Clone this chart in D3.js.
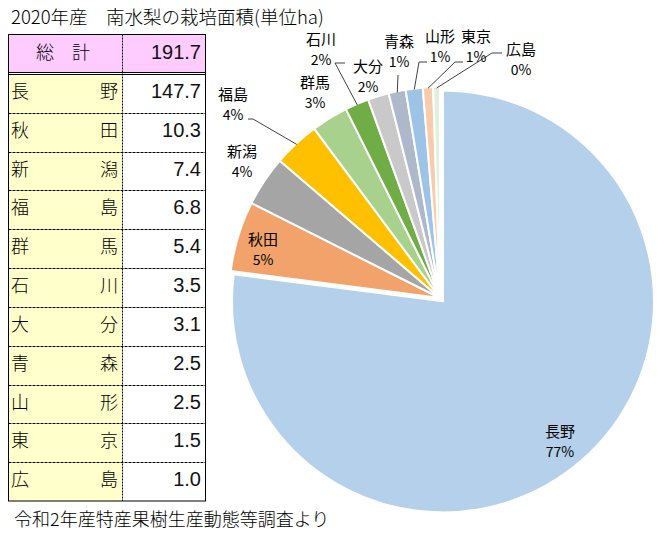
<!DOCTYPE html>
<html><head><meta charset="utf-8">
<script src="https://cdn.jsdelivr.net/npm/d3@7"></script>
<style>
html,body{margin:0;padding:0;background:#fff;}
svg{display:block;}
</style></head>
<body>
<svg id="chart" width="666" height="538"></svg>
<script>
// ---- data ----
const prefectures = ["長野","秋田","新潟","福島","群馬","石川","大分","青森","山形","東京","広島"];
const areas = [147.7, 10.3, 7.4, 6.8, 5.4, 3.5, 3.1, 2.5, 2.5, 1.5, 1.0];
const totalLabel = "191.7";
const areaLabels = ["147.7","10.3","7.4","6.8","5.4","3.5","3.1","2.5","2.5","1.5","1.0"];
const pctLabels = ["77%","5%","4%","4%","3%","2%","2%","1%","1%","1%","0%"];
const sliceColors = ["#b4d0ea","#f2a36c","#a5a5a5","#ffc000","#a9d18e","#70ad47","#c9c9c9","#adb9ca","#9dc3e6","#f8cbad","#e2efda"];
const titleText = "2020年産　南水梨の栽培面積(単位ha)";
const sourceText = "令和2年産特産果樹生産動態等調査より";

// label layout (center x, name baseline) and leader elbows
const labelLayout = [
  {x:560, y:437},
  {x:263, y:245},
  {x:242, y:157},
  {x:233, y:100, leader:[[248,119],[253,119]]},
  {x:315, y:88},
  {x:321, y:45, leader:[[345,63],[335,63]]},
  {x:368, y:72},
  {x:399, y:47, leader:[[398,75]]},
  {x:440, y:42, leader:[[427,62],[419,62]]},
  {x:476, y:42, leader:[[463,62],[455,62]]},
  {x:521, y:55, leader:[[502,53],[492,53]]}
];

const svg = d3.select("#chart");
const jp = "'Noto Sans CJK JP','Noto Sans',sans-serif";
const num = "'Liberation Sans Narrow','Liberation Sans',Arial,sans-serif";

// ---- title / source ----
svg.append("text").attr("x", 11).attr("y", 24).attr("font-family", jp).attr("font-size", 18.5)
  .attr("font-weight", 300).attr("fill", "#000").text(titleText);
svg.append("text").attr("x", 14).attr("y", 526).attr("font-family", jp).attr("font-size", 18)
  .attr("font-weight", 300).attr("fill", "#000").text(sourceText);

// ---- table ----
const tL = 8.5, tR = 205.5, tDiv = 122.5, tTop = 34.5, hdrBottom = 72, tBottom = 501;
const rowY = d3.scaleBand().domain(prefectures).range([74, tBottom]);
const g = svg.append("g");
g.append("rect").attr("x", tL).attr("y", tTop).attr("width", tR - tL).attr("height", hdrBottom - tTop).attr("fill", "#ffccff");
g.append("rect").attr("x", tL).attr("y", 75).attr("width", tDiv - tL).attr("height", tBottom - 75).attr("fill", "#ffffcc");
// double line under header
g.append("line").attr("x1", tL).attr("x2", tR).attr("y1", 72.5).attr("y2", 72.5).attr("stroke", "#000");
g.append("line").attr("x1", tL).attr("x2", tR).attr("y1", 74.5).attr("y2", 74.5).attr("stroke", "#000");
// row separators
prefectures.slice(1).forEach(p => {
  const y = Math.round(rowY(p)) + 0.5;
  g.append("line").attr("x1", tL).attr("x2", tR).attr("y1", y).attr("y2", y)
    .attr("stroke", "#000").attr("stroke-dasharray", "3,1");
});
// column divider
g.append("line").attr("x1", tDiv).attr("x2", tDiv).attr("y1", tTop).attr("y2", tBottom)
  .attr("stroke", "#000").attr("stroke-dasharray", "2,1");
// border
g.append("rect").attr("x", tL).attr("y", tTop).attr("width", tR - tL).attr("height", tBottom - tTop)
  .attr("fill", "none").attr("stroke", "#000");

// header text
g.append("text").attr("x", 63).attr("y", 59).attr("text-anchor", "middle").attr("font-family", jp)
  .attr("font-size", 18).attr("font-weight", 300).attr("xml:space", "preserve").text("総　計");
g.append("text").attr("x", 201).attr("y", 59).attr("text-anchor", "end").attr("font-family", num)
  .attr("font-size", 20).attr("fill", "#111").text(totalLabel);

prefectures.forEach((p, i) => {
  const by = rowY(p) + 24;
  g.append("text").attr("x", 11).attr("y", by).attr("font-family", jp).attr("font-size", 18)
    .attr("font-weight", 300).text(p[0]);
  g.append("text").attr("x", 118).attr("y", by).attr("text-anchor", "end").attr("font-family", jp)
    .attr("font-size", 18).attr("font-weight", 300).text(p[1]);
  g.append("text").attr("x", 201).attr("y", by).attr("text-anchor", "end").attr("font-family", num)
    .attr("font-size", 20).attr("fill", "#111").text(areaLabels[i]);
});

// ---- pie ----
const cx = 440, cy = 298, R = 211, explode = 4.5;
const pie = d3.pie().sort(null).value(d => d)(areas);
const arc = d3.arc().innerRadius(0).outerRadius(R);
const pg = svg.append("g").attr("transform", `translate(${cx},${cy})`);
pg.selectAll("path").data(pie).join("path")
  .attr("d", arc)
  .attr("fill", (d, i) => sliceColors[i])
  .attr("stroke", "#fff").attr("stroke-width", 2).attr("stroke-linejoin", "round")
  .attr("transform", (d, i) => {
    if (i !== 0) return null;
    const a = (d.startAngle + d.endAngle) / 2;
    return `translate(${explode * Math.sin(a)},${-explode * Math.cos(a)})`;
  });

// leader lines
pie.forEach((d, i) => {
  const L = labelLayout[i];
  if (!L.leader) return;
  const a = (d.startAngle + d.endAngle) / 2;
  const end = [cx + (R - 1) * Math.sin(a), cy - (R - 1) * Math.cos(a)];
  const pts = L.leader.concat([end]);
  svg.append("path").attr("d", d3.line()(pts)).attr("fill", "none")
    .attr("stroke", "#404040").attr("stroke-width", 1);
});

// labels
pie.forEach((d, i) => {
  const L = labelLayout[i];
  svg.append("text").attr("x", L.x).attr("y", L.y).attr("text-anchor", "middle")
    .attr("font-family", jp).attr("font-size", 15).attr("fill", "#000").text(prefectures[i]);
  svg.append("text").attr("x", L.x).attr("y", L.y + 20).attr("text-anchor", "middle")
    .attr("font-family", jp).attr("font-size", 14).attr("fill", "#000").text(pctLabels[i]);
});
</script>
</body></html>
